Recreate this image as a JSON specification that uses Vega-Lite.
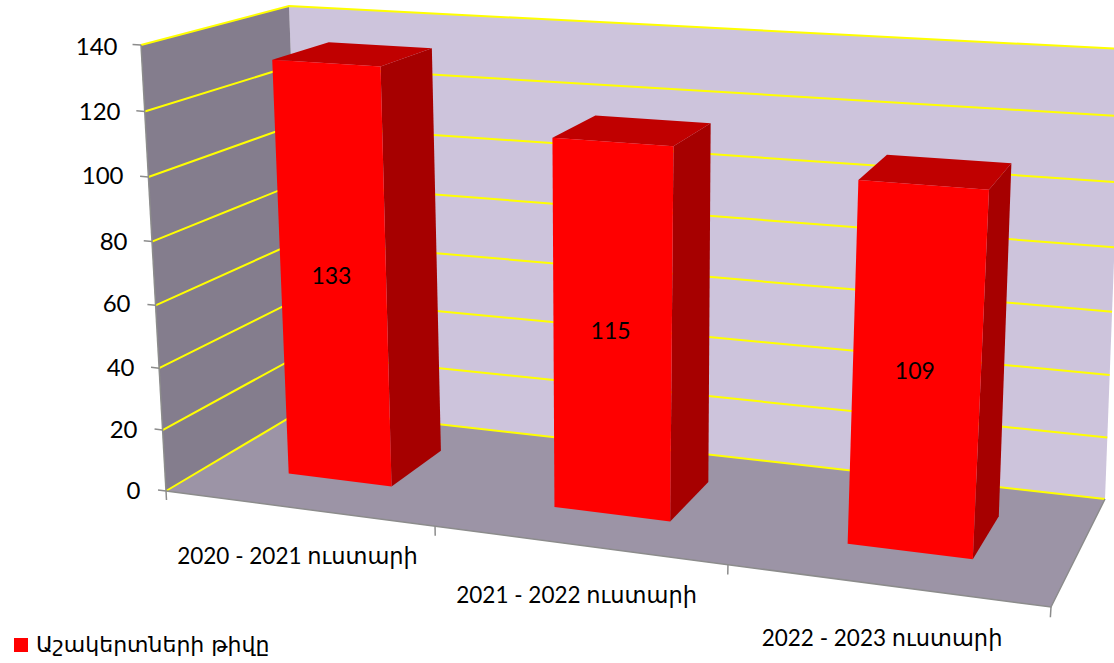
{"$schema":"https://vega.github.io/schema/vega-lite/v6.json","width":1114,"height":663,"padding":0,"autosize":"none","background":"white","config":{"view":{"stroke":null},"font":"Lato, DejaVu Sans"},
"datasets":{"students":[{"year":"2020 - 2021 ուստարի","count":133,"series":"Աշակերտների թիվը"},{"year":"2021 - 2022 ուստարի","count":115,"series":"Աշակերտների թիվը"},{"year":"2022 - 2023 ուստարի","count":109,"series":"Աշակերտների թիվը"}],
"frame":[
{"part":"back","k":0,"u":0,"d":1,"level":0},{"part":"back","k":1,"u":1,"d":1,"level":0},{"part":"back","k":2,"u":1,"d":1,"level":140},{"part":"back","k":3,"u":0,"d":1,"level":140},
{"part":"left","k":0,"u":0,"d":0,"level":0},{"part":"left","k":1,"u":0,"d":1,"level":0},{"part":"left","k":2,"u":0,"d":1,"level":140},{"part":"left","k":3,"u":0,"d":0,"level":140},
{"part":"floor","k":0,"u":0,"d":0,"level":0},{"part":"floor","k":1,"u":1,"d":0,"level":0},{"part":"floor","k":2,"u":1,"d":1,"level":0},{"part":"floor","k":3,"u":0,"d":1,"level":0},
{"part":"grid0","k":0,"u":0,"d":0,"level":0},{"part":"grid0","k":1,"u":0,"d":1,"level":0},{"part":"grid0","k":2,"u":1,"d":1,"level":0},
{"part":"grid20","k":0,"u":0,"d":0,"level":20},{"part":"grid20","k":1,"u":0,"d":1,"level":20},{"part":"grid20","k":2,"u":1,"d":1,"level":20},
{"part":"grid40","k":0,"u":0,"d":0,"level":40},{"part":"grid40","k":1,"u":0,"d":1,"level":40},{"part":"grid40","k":2,"u":1,"d":1,"level":40},
{"part":"grid60","k":0,"u":0,"d":0,"level":60},{"part":"grid60","k":1,"u":0,"d":1,"level":60},{"part":"grid60","k":2,"u":1,"d":1,"level":60},
{"part":"grid80","k":0,"u":0,"d":0,"level":80},{"part":"grid80","k":1,"u":0,"d":1,"level":80},{"part":"grid80","k":2,"u":1,"d":1,"level":80},
{"part":"grid100","k":0,"u":0,"d":0,"level":100},{"part":"grid100","k":1,"u":0,"d":1,"level":100},{"part":"grid100","k":2,"u":1,"d":1,"level":100},
{"part":"grid120","k":0,"u":0,"d":0,"level":120},{"part":"grid120","k":1,"u":0,"d":1,"level":120},{"part":"grid120","k":2,"u":1,"d":1,"level":120},
{"part":"grid140","k":0,"u":0,"d":0,"level":140},{"part":"grid140","k":1,"u":0,"d":1,"level":140},{"part":"grid140","k":2,"u":1,"d":1,"level":140},
{"part":"edgeFloor","k":0,"u":0,"d":0,"level":0},{"part":"edgeFloor","k":1,"u":1,"d":0,"level":0},{"part":"edgeFloor","k":2,"u":1,"d":1,"level":0},
{"part":"edgeAxis","k":0,"u":0,"d":0,"level":0},{"part":"edgeAxis","k":1,"u":0,"d":0,"level":140},
{"part":"tick0","k":0,"u":-0.009,"d":0,"level":0},{"part":"tick0","k":1,"u":0,"d":0,"level":0},
{"part":"tick20","k":0,"u":-0.009,"d":0,"level":20},{"part":"tick20","k":1,"u":0,"d":0,"level":20},
{"part":"tick40","k":0,"u":-0.009,"d":0,"level":40},{"part":"tick40","k":1,"u":0,"d":0,"level":40},
{"part":"tick60","k":0,"u":-0.009,"d":0,"level":60},{"part":"tick60","k":1,"u":0,"d":0,"level":60},
{"part":"tick80","k":0,"u":-0.009,"d":0,"level":80},{"part":"tick80","k":1,"u":0,"d":0,"level":80},
{"part":"tick100","k":0,"u":-0.009,"d":0,"level":100},{"part":"tick100","k":1,"u":0,"d":0,"level":100},
{"part":"tick120","k":0,"u":-0.009,"d":0,"level":120},{"part":"tick120","k":1,"u":0,"d":0,"level":120},
{"part":"tick140","k":0,"u":-0.009,"d":0,"level":140},{"part":"tick140","k":1,"u":0,"d":0,"level":140},
{"part":"catTick0","k":0,"u":0,"d":0,"level":0},{"part":"catTick0","k":1,"u":0,"d":0,"level":-3},
{"part":"catTick1","k":0,"u":0.304,"d":0,"level":0},{"part":"catTick1","k":1,"u":0.304,"d":0,"level":-3},
{"part":"catTick2","k":0,"u":0.635,"d":0,"level":0},{"part":"catTick2","k":1,"u":0.635,"d":0,"level":-3},
{"part":"catTick3","k":0,"u":1,"d":0,"level":0},{"part":"catTick3","k":1,"u":1,"d":0,"level":-3}
]},
"encoding":{
"x":{"field":"sx","type":"quantitative","scale":{"domain":[0,1114],"nice":false,"zero":false},"axis":null},
"y":{"field":"sy","type":"quantitative","scale":{"domain":[-53.99,154.13],"nice":false,"zero":false},"axis":{"title":null,"values":[0,20,40,60,80,100,120,140],"orient":"left","offset":-141,"grid":false,"ticks":false,"domain":false,"labelFontSize":24,"labelFont":"Lato","labelColor":"#000000",
"labelPadding":{"condition":[{"test":"datum.value==140","value":24},{"test":"datum.value==120","value":21},{"test":"datum.value==100","value":18},{"test":"datum.value==80","value":14},{"test":"datum.value==60","value":11},{"test":"datum.value==40","value":7},{"test":"datum.value==20","value":4}],"value":1},
"labelOffset":{"condition":[{"test":"datum.value==140","value":2},{"test":"datum.value==120","value":4},{"test":"datum.value==100","value":4},{"test":"datum.value==80","value":6},{"test":"datum.value==60","value":5},{"test":"datum.value==40","value":5},{"test":"datum.value==20","value":3}],"value":0}}}
},
"layer":[
{"data":{"name":"frame"},"transform":[
{"calculate":"datum.level/140","as":"t"},
{"calculate":"datum.t+0.05*datum.t*(datum.t-1)","as":"tau"},
{"calculate":"166+885*datum.u+138*datum.d-84*datum.u*datum.d+datum.tau*(-25+56*datum.u+10*datum.d-24*datum.u*datum.d)","as":"sx"},
{"calculate":"(-116*datum.u+82*datum.d+26*datum.u*datum.d-datum.tau*(-446-58*datum.u+43*datum.d+11*datum.u*datum.d))/3.1857","as":"sy"}],
"layer":[
{"transform":[{"filter":"datum.part=='back'"}],"mark":{"type":"line","fill":"#CDC4DC","strokeWidth":0},"encoding":{"order":{"field":"k"}}},
{"transform":[{"filter":"datum.part=='left'"}],"mark":{"type":"line","fill":"#847D8D","strokeWidth":0},"encoding":{"order":{"field":"k"}}},
{"transform":[{"filter":"datum.part=='floor'"}],"mark":{"type":"line","fill":"#9C94A6","strokeWidth":0},"encoding":{"order":{"field":"k"}}},
{"transform":[{"filter":"indexof(datum.part,'grid')==0"}],"mark":{"type":"line","stroke":"#FFFF00","strokeWidth":2},"encoding":{"detail":{"field":"part"},"order":{"field":"k"}}},
{"transform":[{"filter":"indexof(datum.part,'edge')==0||indexof(datum.part,'tick')==0||indexof(datum.part,'catTick')==0"}],"mark":{"type":"line","stroke":"#8C8C8C","strokeWidth":1.5},"encoding":{"detail":{"field":"part"},"order":{"field":"k"}}}
]},
{"data":{"name":"students"},"transform":[
{"window":[{"op":"row_number","as":"n"}]},
{"calculate":"[0.09,0.40,0.742][datum.n-1]","as":"u0"},
{"calculate":"[0.21,0.535,0.888][datum.n-1]","as":"u1"},
{"calculate":"['front','front','front','front','side','side','side','side','top','top','top','top','value','name']","as":"fa"},
{"calculate":"[0,1,2,3,0,1,2,3,0,1,2,3,0,0]","as":"ka"},
{"calculate":"[datum.u0,datum.u1,datum.u1,datum.u0,datum.u1,datum.u1,datum.u1,datum.u1,datum.u0,datum.u1,datum.u1,datum.u0,(datum.u0+datum.u1)/2,(datum.u0+datum.u1)/2]","as":"ua"},
{"calculate":"[0.33,0.33,0.33,0.33,0.33,0.74,0.74,0.33,0.33,0.33,0.74,0.74,0.33,0]","as":"da"},
{"calculate":"[0,0,datum.count,datum.count,0,0,datum.count,datum.count,datum.count,datum.count,datum.count,datum.count,datum.count/2,-16]","as":"la"},
{"flatten":["fa","ka","ua","da","la"],"as":["face","k","u","d","level"]},
{"calculate":"datum.level/140","as":"t"},
{"calculate":"datum.t+0.05*datum.t*(datum.t-1)","as":"tau"},
{"calculate":"166+885*datum.u+138*datum.d-84*datum.u*datum.d+datum.tau*(-25+56*datum.u+10*datum.d-24*datum.u*datum.d)","as":"sx"},
{"calculate":"(-116*datum.u+82*datum.d+26*datum.u*datum.d-datum.tau*(-446-58*datum.u+43*datum.d+11*datum.u*datum.d))/3.1857","as":"sy"}],
"layer":[
{"transform":[{"filter":"datum.face=='side'"}],"mark":{"type":"line","fill":"#A60000","strokeWidth":0},"encoding":{"detail":{"field":"year"},"order":{"field":"k"}}},
{"transform":[{"filter":"datum.face=='top'"}],"mark":{"type":"line","fill":"#C00000","strokeWidth":0},"encoding":{"detail":{"field":"year"},"order":{"field":"k"}}},
{"transform":[{"filter":"datum.face=='front'"}],"mark":{"type":"line","strokeWidth":0},"encoding":{"detail":{"field":"year"},"order":{"field":"k"},"fill":{"field":"series","type":"nominal","scale":{"range":["#FF0000"]},"legend":{"title":null,"orient":"none","legendX":10,"legendY":634,"symbolType":"square","symbolSize":196,"symbolFillColor":"#FF0000","symbolStrokeColor":"#FF0000","symbolStrokeWidth":0,"labelFontSize":22,"labelFont":"DejaVu Sans","labelColor":"#000000","labelOffset":4,"labelLimit":400}}}},
{"transform":[{"filter":"datum.face=='value'"}],"mark":{"type":"text","fontSize":23,"font":"Lato","color":"#000000","dx":-2,"dy":0},"encoding":{"text":{"field":"count","type":"quantitative"}}},
{"transform":[{"filter":"datum.face=='name'"}],"mark":{"type":"text","fontSize":22.5,"font":"Lato, DejaVu Sans","color":"#000000","dx":-3},"encoding":{"text":{"field":"year","type":"nominal"}}}
]}
]}
